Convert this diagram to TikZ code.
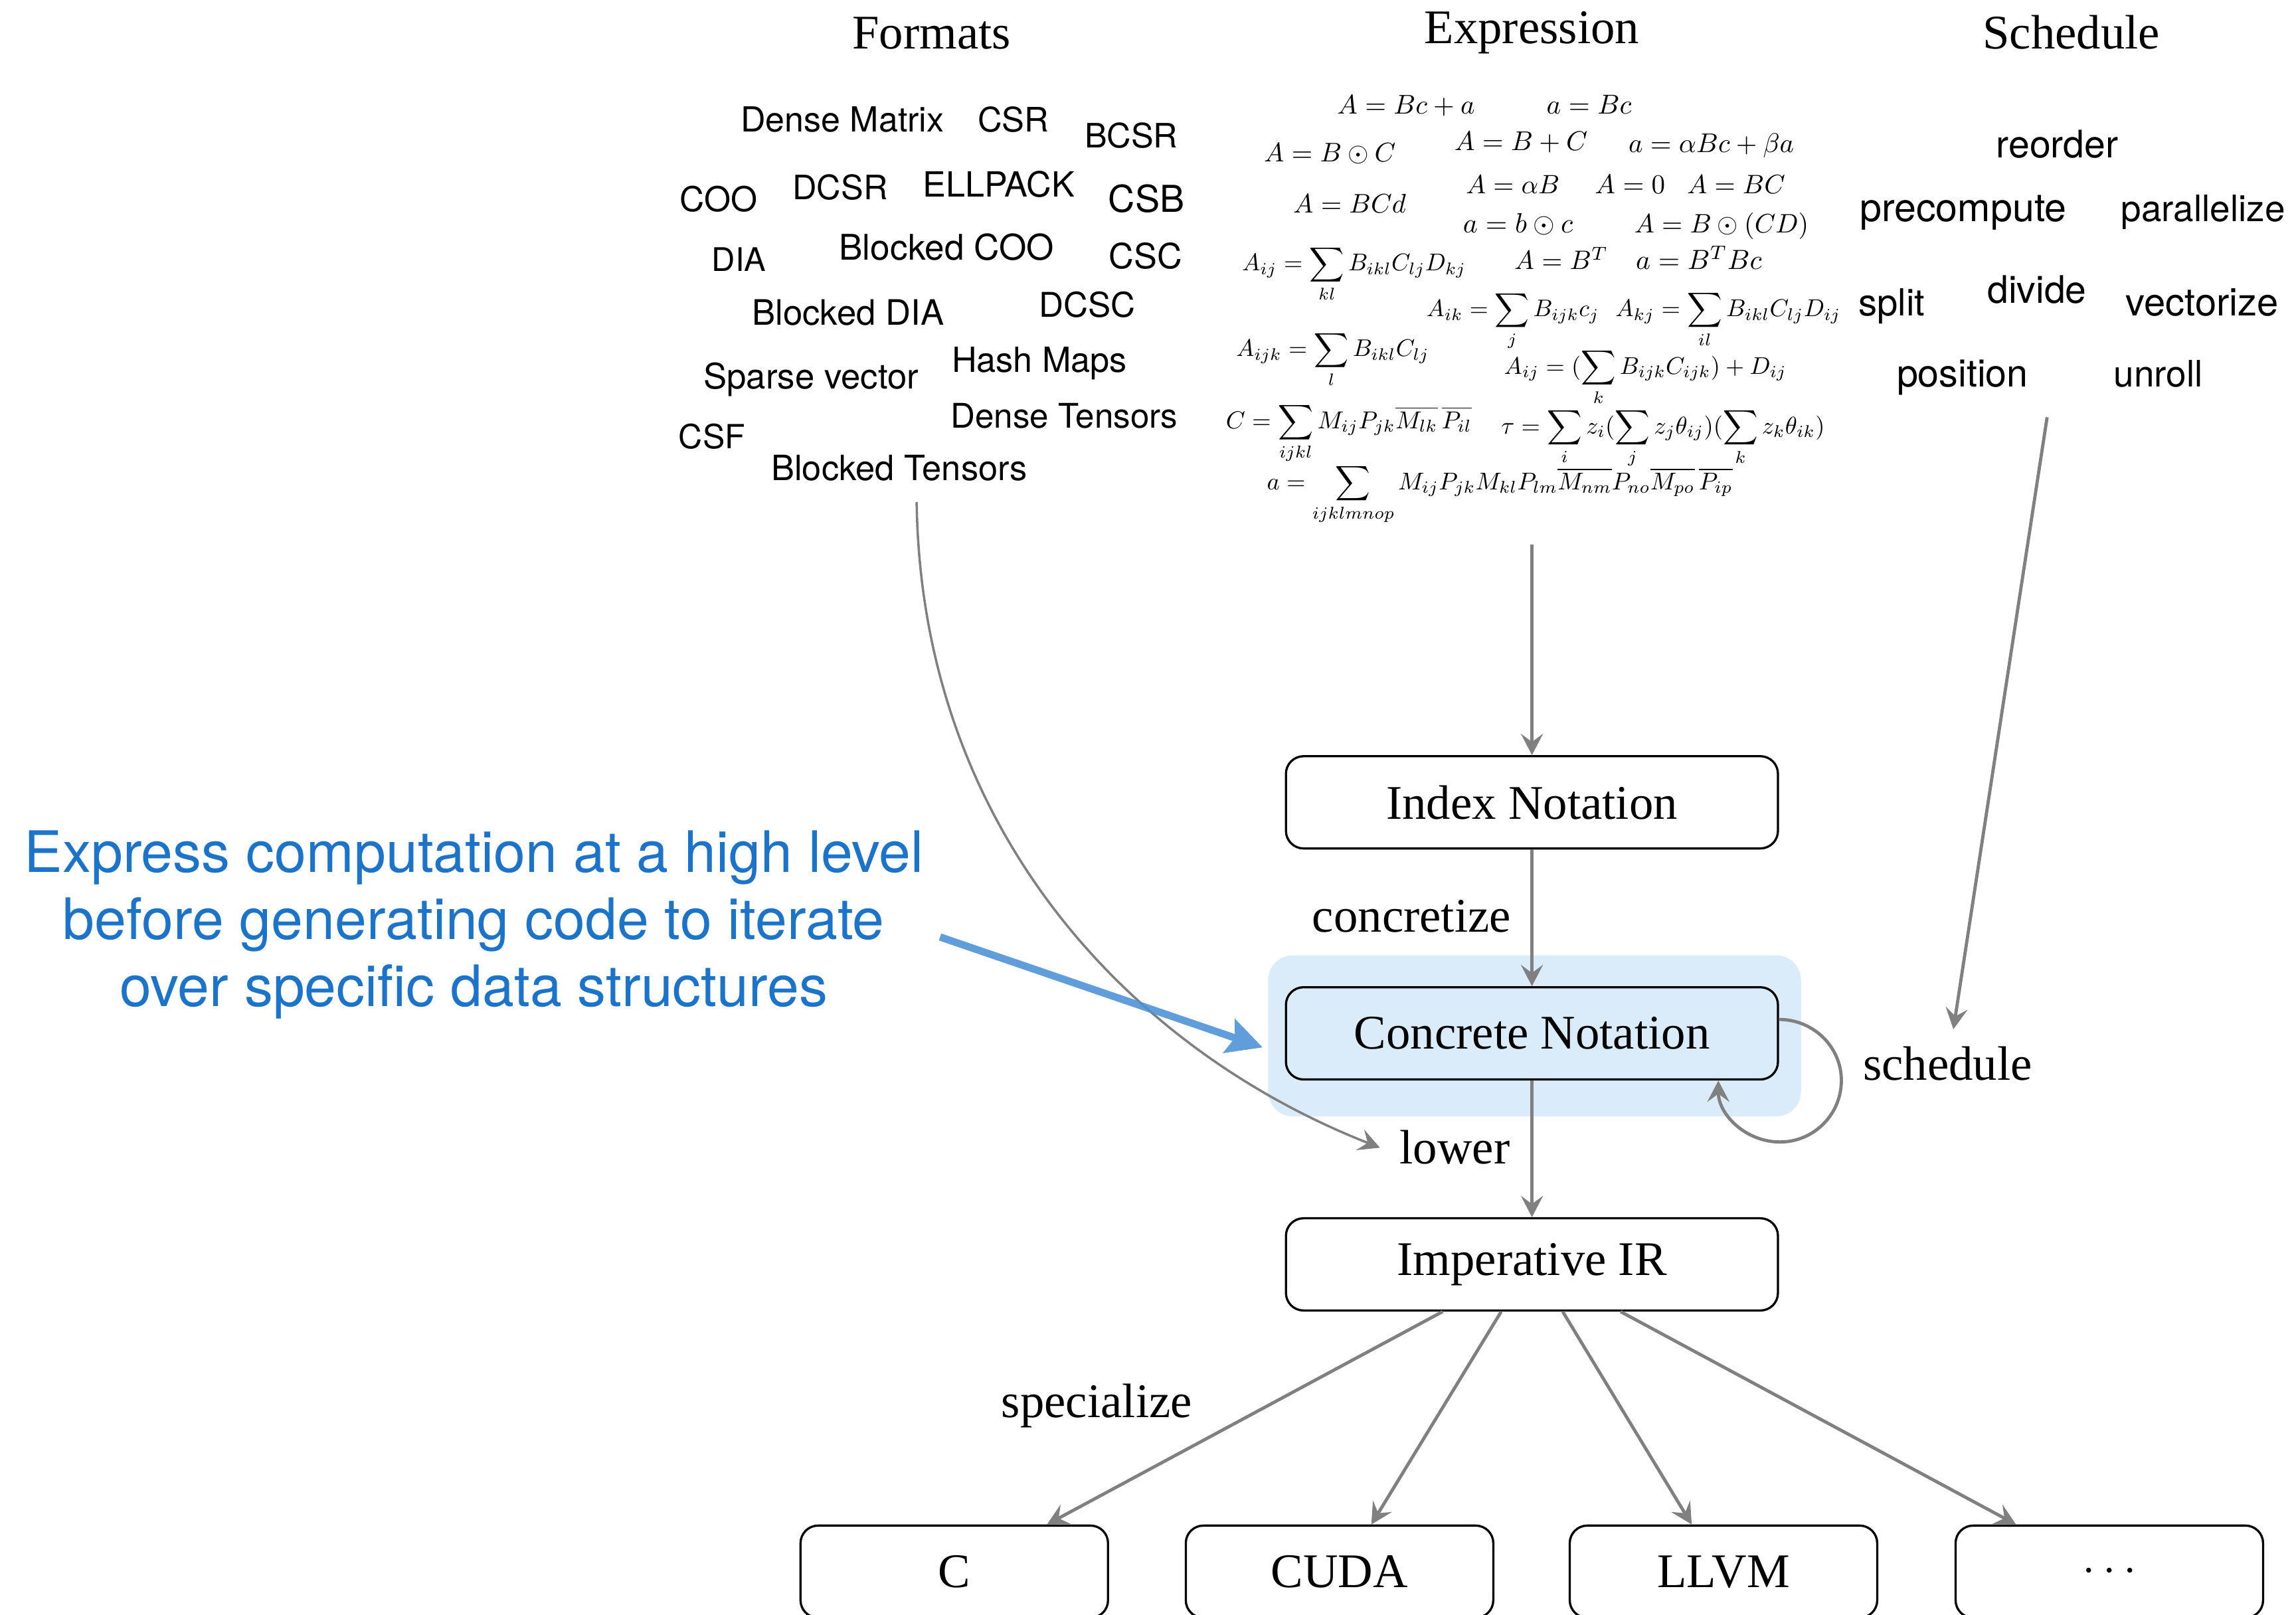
\documentclass[tikz,border=0pt]{standalone}
\usepackage{fontspec}
\setmainfont{Liberation Serif}
\setsansfont{TeX Gyre Heros}
\usepackage{graphicx}
\usetikzlibrary{arrows.meta}
\definecolor{flowgray}{RGB}{128,128,128}
\definecolor{hlblue}{RGB}{218,235,250}
\definecolor{txtblue}{RGB}{27,116,201}
\definecolor{arrblue}{RGB}{74,144,214}
\newcommand{\fw}[2]{\resizebox{#1pt}{!}{#2}}
\begin{document}
\begin{tikzpicture}[x=1pt,y=-1pt,
  box/.style={draw=black, line width=1.5pt, rounded corners=12pt, minimum width=336pt, minimum height=63pt, inner sep=0pt, font=\fontsize{33}{40}\selectfont},
  tbox/.style={box, minimum width=210pt},
  flow/.style={draw=flowgray, line width=2.2pt, -{Stealth[length=14.5pt,width=15pt,inset=5.5pt]}},
  lbl/.style={font=\fontsize{33}{40}\selectfont, inner sep=0pt, anchor=base},
  fmt/.style={font=\sffamily\fontsize{24}{28}\selectfont, inner sep=0pt, anchor=base west},
  eq/.style={inner sep=0pt, anchor=base west},
  bluetxt/.style={font=\sffamily\fontsize{39}{46}\selectfont, text=txtblue, inner sep=0pt, anchor=base},
  bluearrow/.style={draw=arrblue, line width=5pt, -{Stealth[length=24pt,width=24pt,inset=4pt]}}
]
\useasboundingbox (0,0) rectangle (1568,1103);
\clip (0,0) rectangle (1568,1103);

% highlight behind Concrete Notation
\fill[hlblue, rounded corners=17pt] (866,652.5) rectangle (1230,762.5);

% titles
\node[lbl] (tfmt) at (636.2,33.2) {Formats};
\node[lbl] (texp) at (1046.1,29.7) {Expression};
\node[lbl] (tsch) at (1414.6,33.3) {Schedule};

% formats
\node[fmt] (f1) at (505.6,90.0) {\fw{138.9}{Dense Matrix}};
\node[fmt] (f2) at (667.6,90.0) {\fw{48.6}{CSR}};
\node[fmt] (f3) at (740.5,101.1) {\fw{63.7}{BCSR}};
\node[fmt] (f4) at (464.0,144.6) {\fw{53}{COO}};
\node[fmt] (f5) at (541.0,136.3) {\fw{65}{DCSR}};
\node[fmt] (f6) at (630.0,134.4) {\fw{103.6}{ELLPACK}};
\node[fmt] (f7) at (756.8,145.1) {\fw{52}{CSB}};
\node[fmt] (f8) at (486.0,185.5) {\fw{37}{DIA}};
\node[fmt] (f9) at (572.8,177.5) {\fw{146.9}{Blocked COO}};
\node[fmt] (f10) at (757.2,183.5) {\fw{50}{CSC}};
\node[fmt] (f11) at (513.3,222.0) {\fw{131.2}{Blocked DIA}};
\node[fmt] (f12) at (709.3,216.4) {\fw{65.9}{DCSC}};
\node[fmt] (f13) at (649.8,254.0) {\fw{119.7}{Hash Maps}};
\node[fmt] (f14) at (480.2,265.5) {\fw{147}{Sparse vector}};
\node[fmt] (f15) at (649.1,292.3) {\fw{155.1}{Dense Tensors}};
\node[fmt] (f16) at (463.3,306.6) {\fw{45.4}{CSF}};
\node[fmt] (f17) at (526.5,328.1) {\fw{174.7}{Blocked Tensors}};

% schedule words
\node[fmt] (s1) at (1363.1,107.8) {\fw{83.3}{reorder}};
\node[fmt] (s2) at (1270.0,151.4) {\fw{141.1}{precompute}};
\node[fmt] (s3) at (1448.4,151.4) {\fw{111.9}{parallelize}};
\node[fmt] (s4) at (1269.0,215.7) {\fw{45.3}{split}};
\node[fmt] (s5) at (1357.1,207.0) {\fw{67.7}{divide}};
\node[fmt] (s6) at (1451.5,215.7) {\fw{104.3}{vectorize}};
\node[fmt] (s7) at (1295.2,264.4) {\fw{89.7}{position}};
\node[fmt] (s8) at (1443.4,264.0) {\fw{60.8}{unroll}};

% expressions
\node[eq] (e1) at (913,77.9) {\fw{94}{$A = Bc + a$}};
\node[eq] (e2) at (1056,78) {\fw{58}{$a = Bc$}};
\node[eq] (e3) at (863,110.4) {\fw{90}{$A = B \odot C$}};
\node[eq] (e4) at (993,102.6) {\fw{91}{$A = B + C$}};
\node[eq] (e5) at (1112,104) {\fw{113}{$a = \alpha Bc + \beta a$}};
\node[eq] (e6) at (1001,132.3) {\fw{64}{$A = \alpha B$}};
\node[eq] (e7) at (1089,132.3) {\fw{48}{$A = 0$}};
\node[eq] (e8) at (1152,132.3) {\fw{67}{$A = BC$}};
\node[eq] (e9) at (883,145.5) {\fw{77}{$A = BCd$}};
\node[eq] (e10) at (999,158.8) {\fw{75}{$a = b \odot c$}};
\node[eq] (e11) at (1116,158.8) {\fw{119}{$A = B \odot (CD)$}};
\node[eq] (e12) at (848,185) {\fw{153}{$\displaystyle A_{ij} = \sum_{kl} B_{ikl}C_{lj}D_{kj}$}};
\node[eq] (e13) at (1034,184) {\fw{64}{$A = B^T$}};
\node[eq] (e14) at (1117,184) {\fw{86}{$a = B^T Bc$}};
\node[eq] (e15) at (974,216.2) {\fw{118}{$\displaystyle A_{ik} = \sum_{j} B_{ijk}c_j$}};
\node[eq] (e16) at (1103,216.2) {\fw{154}{$\displaystyle A_{kj} = \sum_{il} B_{ikl}C_{lj}D_{ij}$}};
\node[eq] (e17) at (844,243.4) {\fw{132}{$\displaystyle A_{ijk} = \sum_{l} B_{ikl}C_{lj}$}};
\node[eq] (e18) at (1027,255.5) {\fw{193}{$\displaystyle A_{ij} = (\sum_{k} B_{ijk}C_{ijk}) + D_{ij}$}};
\node[eq] (e19) at (837,292.6) {\fw{168}{$\displaystyle C = \sum_{ijkl} M_{ij}P_{jk}\overline{M_{lk}}\,\overline{P_{il}}$}};
\node[eq] (e20) at (1025,296.3) {\fw{221}{$\displaystyle \tau = \sum_{i} z_i(\sum_{j} z_j\theta_{ij})(\sum_{k} z_k\theta_{ik})$}};
\node[eq] (e21) at (865,334.3) {\fw{318}{$\displaystyle a = \sum_{ijklmnop} M_{ij}P_{jk}M_{kl}P_{lm}\overline{M_{nm}}P_{no}\overline{M_{po}}\,\overline{P_{ip}}$}};

% pipeline boxes
\node[box] (idx) at (1046.2,548) {Index Notation};
\node[box] (cn) at (1046.2,705.8) {Concrete Notation};
\node[box] (ir) at (1046.2,863.6) {Imperative IR};
\node[tbox] (tc) at (651.7,1073.5) {C};
\node[tbox] (tcuda) at (914.8,1073.5) {CUDA};
\node[tbox] (tllvm) at (1177,1073.5) {LLVM};
\node[tbox] (tmore) at (1440.5,1073.5) {\fw{37}{$\cdots$}};

% edge labels
\node[lbl] (lconc) at (964,636.7) {concretize};
\node[lbl] (llow) at (993.5,795) {lower};
\node[lbl] (lsch) at (1330,737.5) {schedule};
\node[lbl] (lspec) at (749,968) {specialize};

% connectors
\coordinate (expS) at (1046.2,372);
\coordinate (schS) at (1398,285);
\coordinate (schE) at (1334,703);
\coordinate (fmtS) at (626,343);
\coordinate (fmtE) at (942.4,783.9);
\draw[flow] (expS) -- (idx.north);
\draw[flow] (idx.south) -- (cn.north);
\draw[flow] (cn.south) -- (ir.north);
\draw[flow] ([xshift=-61pt]ir.south) -- ([xshift=63.3pt]tc.north);
\draw[flow] ([xshift=-21pt]ir.south) -- ([xshift=21.7pt]tcuda.north);
\draw[flow] ([xshift=21pt]ir.south) -- ([xshift=-21.7pt]tllvm.north);
\draw[flow] ([xshift=60.5pt]ir.south) -- ([xshift=-63.7pt]tmore.north);
\draw[flow] (schS) -- (schE);
\draw[flow, line width=1.6pt] (fmtS) .. controls (629,560) and (765,714) .. (fmtE);
\draw[flow] ([yshift=9.5pt]cn.east) .. controls +(23.2,0) and +(0,-23.2) .. (1257.5,738)
  .. controls +(0,23.2) and +(23.2,0) .. (1215.5,780)
  .. controls +(-23.2,0) and +(0,23.2) .. ([xshift=127.3pt]cn.south);

% blue annotation
\node[bluetxt] (b1) at (323.8,595.8) {Express computation at a high level};
\node[bluetxt] (b2) at (323.5,641.5) {before generating code to iterate};
\node[bluetxt] (b3) at (323.5,687.2) {over specific data structures};
\coordinate (bS) at (642,640);
\coordinate (bE) at (862.3,715.4);
\begin{scope}[transparency group, opacity=0.88]
\draw[bluearrow] (bS) -- (bE);
\end{scope}
\end{tikzpicture}
\end{document}
